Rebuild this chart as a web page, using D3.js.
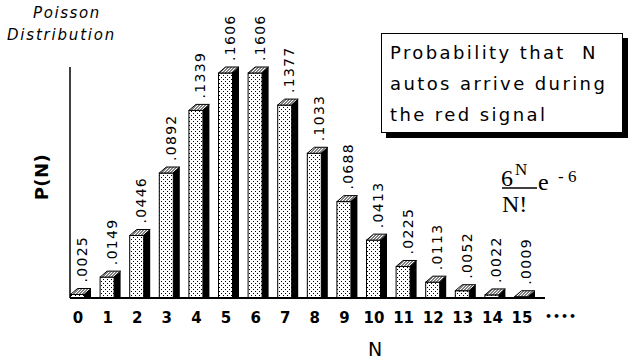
<!DOCTYPE html>
<html><head><meta charset="utf-8">
<script src="https://cdn.jsdelivr.net/npm/d3@7"></script>
<style>
html,body{margin:0;padding:0;background:#fff;}
svg{display:block;}
</style></head>
<body>
<script>
const categories = ["0","1","2","3","4","5","6","7","8","9","10","11","12","13","14","15"];
const values = [0.0025,0.0149,0.0446,0.0892,0.1339,0.1606,0.1606,0.1377,0.1033,0.0688,0.0413,0.0225,0.0113,0.0052,0.0022,0.0009];
const valueLabels = [".0025",".0149",".0446",".0892",".1339",".1606",".1606",".1377",".1033",".0688",".0413",".0225",".0113",".0052",".0022",".0009"];
const titleLines = ["Poisson","Distribution"];
const boxLines = ["Probability that  N","autos arrive during","the red signal"];

const W=632,H=360;
const svg=d3.select("body").append("svg").attr("width",W).attr("height",H);
const defs=svg.append("defs");
const dots=defs.append("pattern").attr("id","dots").attr("patternUnits","userSpaceOnUse").attr("width",4).attr("height",4);
dots.append("rect").attr("width",4).attr("height",4).attr("fill","#fff");
dots.append("rect").attr("x",1).attr("y",1).attr("width",1).attr("height",1).attr("fill","#000");
dots.append("rect").attr("x",3).attr("y",3).attr("width",1).attr("height",1).attr("fill","#000");
const hatch=defs.append("pattern").attr("id","hatch").attr("patternUnits","userSpaceOnUse").attr("width",3).attr("height",6).attr("patternTransform","skewX(-45)");
hatch.append("rect").attr("width",3).attr("height",6).attr("fill","#fff");
hatch.append("rect").attr("x",1).attr("y",0).attr("width",1).attr("height",6).attr("fill","#000");

const base=298, left=70, step=29.6, dx=7, dy=6;
const x=d3.scaleBand().domain(categories).range([left,left+step*(categories.length-0.527)]).paddingInner(0.527).paddingOuter(0).align(0);
const y=d3.scaleLinear().domain([0,0.17]).range([base,base-0.17*1401]);

const g=svg.append("g");
categories.forEach((c,i)=>{
  const x0=x(c), w=x.bandwidth(), yt=y(values[i]);
  g.append("polygon").attr("points",[[x0+w,yt],[x0+w+dx,yt-dy],[x0+w+dx,base],[x0+w,base]].map(p=>p.join(",")).join(" "))
    .attr("fill","#000");
  g.append("rect").attr("x",x0+0.5).attr("y",yt).attr("width",w).attr("height",Math.max(0,base-yt))
    .attr("fill","url(#dots)").attr("stroke","#000").attr("stroke-width",1);
  g.append("polygon").attr("points",[[x0+0.5,yt],[x0+dx+0.5,yt-dy],[x0+w+dx,yt-dy],[x0+w,yt]].map(p=>p.join(",")).join(" "))
    .attr("fill","url(#hatch)").attr("stroke","#000").attr("stroke-width",1);
  const lx=x0+12, ly=yt-dy-6;
  g.append("text").attr("transform",`translate(${lx},${ly}) rotate(-90)`)
    .attr("font-family","DejaVu Sans").attr("font-size",14).attr("letter-spacing",1.3)
    .attr("fill","#000").attr("dominant-baseline","central").text(valueLabels[i]);
});

svg.append("line").attr("x1",left).attr("x2",545).attr("y1",base).attr("y2",base).attr("stroke","#000").attr("stroke-width",2);
svg.append("line").attr("x1",left).attr("x2",left).attr("y1",67).attr("y2",base).attr("stroke","#000").attr("stroke-width",1.5);

svg.append("g").selectAll("text").data(categories).join("text")
  .attr("x",d=>x(d)+8).attr("y",323).attr("text-anchor","middle")
  .attr("font-family","DejaVu Sans").attr("font-size",15).attr("font-weight","bold").text(d=>d);
svg.append("text").attr("x",545).attr("y",320).attr("font-family","DejaVu Sans").attr("font-size",11).attr("font-weight","bold").attr("letter-spacing",1).text("••••");

svg.append("text").attr("x",375).attr("y",356).attr("text-anchor","middle").attr("font-family","DejaVu Sans").attr("font-size",19).text("N");
svg.append("text").attr("transform","translate(48,177) rotate(-90)").attr("text-anchor","middle").attr("font-family","DejaVu Sans").attr("font-size",18).attr("font-weight","bold").attr("letter-spacing",0.5).text("P(N)");

svg.append("text").attr("x",33).attr("y",18).attr("font-family","DejaVu Sans").attr("font-style","italic").attr("font-size",15).attr("letter-spacing",1.6).text(titleLines[0]);
svg.append("text").attr("x",7).attr("y",40).attr("font-family","DejaVu Sans").attr("font-style","italic").attr("font-size",15).attr("letter-spacing",1.8).text(titleLines[1]);

svg.append("rect").attr("x",386).attr("y",38).attr("width",242).attr("height",100).attr("fill","#000");
svg.append("rect").attr("x",381.5).attr("y",33.5).attr("width",241).attr("height",99).attr("fill","#fff").attr("stroke","#000").attr("stroke-width",1);
boxLines.forEach((t,i)=>{
  svg.append("text").attr("x",390).attr("y",59+i*31).attr("font-family","DejaVu Sans").attr("font-size",18).attr("letter-spacing",2.4).style("white-space","pre").text(t);
});

const f=svg.append("g").attr("font-family","Liberation Serif").attr("fill","#000");
f.append("text").attr("x",501).attr("y",186).attr("font-size",24).text("6");
f.append("text").attr("x",515).attr("y",175).attr("font-size",17).text("N");
f.append("line").attr("x1",502).attr("x2",537).attr("y1",188).attr("y2",188).attr("stroke","#000").attr("stroke-width",1.5);
f.append("text").attr("x",502).attr("y",212).attr("font-size",24).text("N!");
f.append("text").attr("x",538).attr("y",190).attr("font-size",24).text("e");
f.append("text").attr("x",558).attr("y",182).attr("font-size",17).text("- 6");
</script>
</body></html>
